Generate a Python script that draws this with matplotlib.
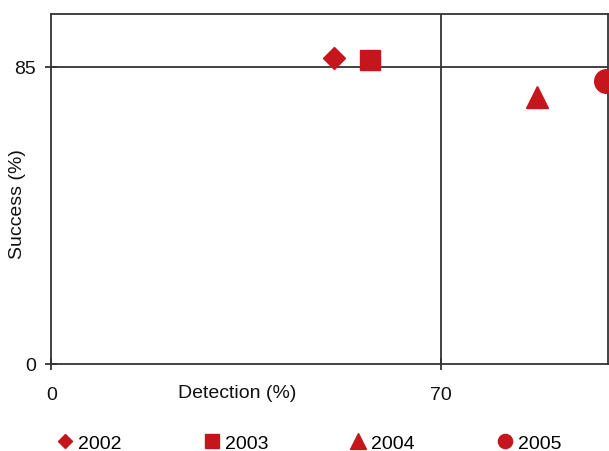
import matplotlib
matplotlib.use('Agg')
import matplotlib.pyplot as plt

years = ['2002', '2003', '2004', '2005']
detection = [50.8, 57.2, 87.3, 99.7]
success = [87.4, 86.9, 76.4, 80.8]
x_ticks = [0, 70]
y_ticks = [0, 85]
x_ref = 70
y_ref = 85

markers = ['D', 's', '^', 'o']
plot_sizes = [11, 15, 15.5, 17]
legend_sizes = [7.4, 10.2, 11, 10.2]
red = '#C4161C'
dark = '#333333'

plt.rcParams['font.family'] = ['Liberation Sans', 'DejaVu Sans']

W, H = 609, 452
fig = plt.figure(figsize=(W / 100, H / 100), dpi=100)
ax = fig.add_axes([51.5 / W, 1 - 365 / H, (607.5 - 51.5) / W, (365 - 15) / H])

ax.set_xlim(0, 100)
ax.set_ylim(0, 100)

ax.axvline(x_ref, color=dark, lw=1.3, zorder=1)
ax.axhline(y_ref, color=dark, lw=1.3, zorder=1)

handles = []
for yr, x, y, m, s, ls in zip(years, detection, success, markers, plot_sizes, legend_sizes):
    ax.plot([x], [y], marker=m, ms=s, color=red, mec=red, ls='none',
            clip_on=False, zorder=3)
    h, = ax.plot([], [], marker=m, ms=ls, color=red, mec=red, ls='none', label=yr)
    handles.append(h)

for sp in ax.spines.values():
    sp.set_color(dark)
    sp.set_linewidth(1.3)

ax.set_xticks(x_ticks)
ax.set_yticks(y_ticks)
ax.tick_params(axis='both', direction='inout', length=8.5, width=1.3,
               color=dark, labelsize=14, labelcolor='#111111')
ax.tick_params(axis='x', pad=11.5)
ax.tick_params(axis='y', pad=7)

fig.text(237 / W, 1 - 393.7 / H, 'Detection (%)', ha='center', va='center',
         fontsize=14, color='#111111')
fig.text(17.5 / W, 1 - 204 / H, 'Success (%)', ha='center', va='center',
         rotation=90, fontsize=14, color='#111111')

fig.legend(handles=handles, loc='center', bbox_to_anchor=(309.4 / W, 8.0 / H),
           ncol=4, frameon=False, fontsize=14, handlelength=0.8,
           handletextpad=0.25, columnspacing=4.25, borderpad=0,
           borderaxespad=0, numpoints=1)

fig.savefig('out.png', dpi=100)
